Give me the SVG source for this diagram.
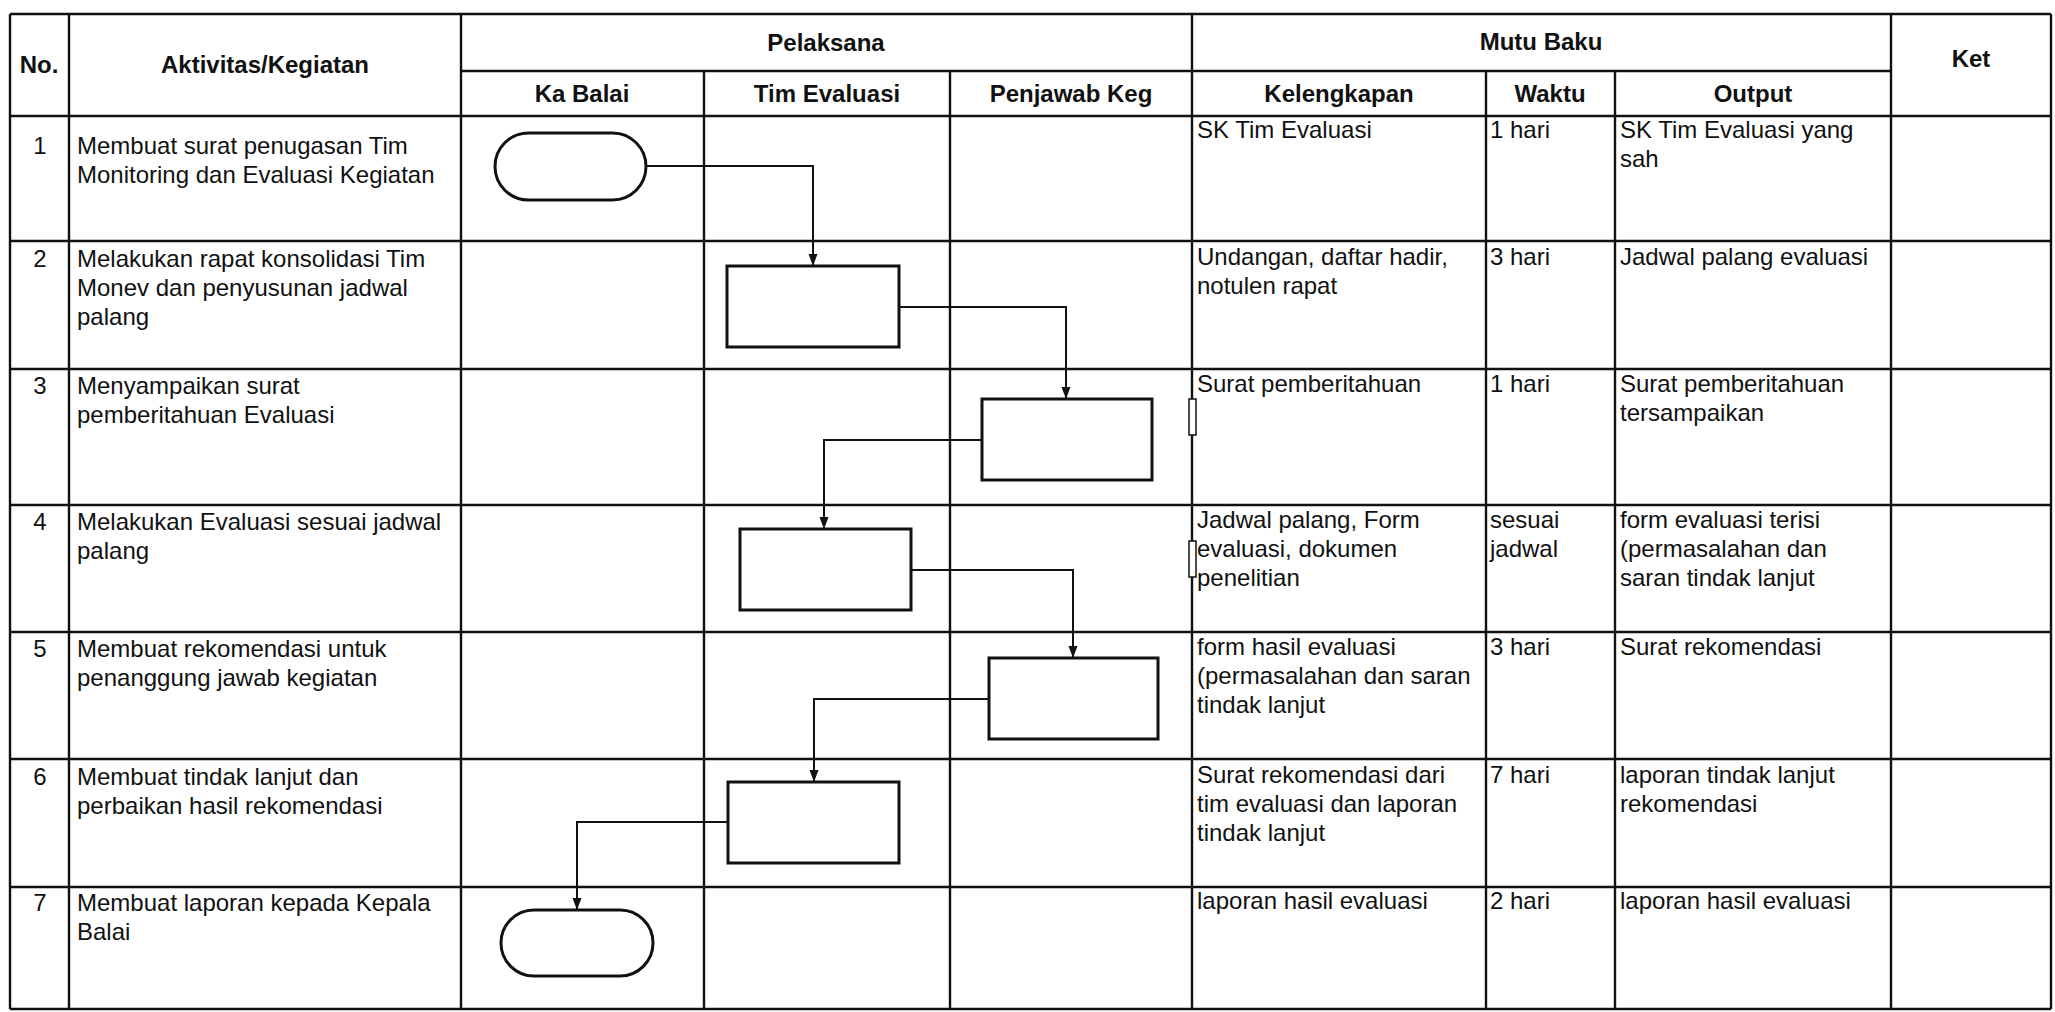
<svg xmlns="http://www.w3.org/2000/svg" width="2055" height="1012" viewBox="0 0 2055 1012">
<style>
  .grid line { stroke: #111; stroke-width: 2.4; }
  .node { fill: #fff; stroke: #111; stroke-width: 3; }
  .tab { fill: #fff; stroke: #111; stroke-width: 1.5; }
  .conn { fill: none; stroke: #111; stroke-width: 2; }
  text { font-family: "Liberation Sans", Arial, sans-serif; font-size: 24px; fill: #111; }
  .h { font-weight: bold; text-anchor: middle; }
  .num { text-anchor: middle; }
</style>
<defs>
  <marker id="ah" markerUnits="userSpaceOnUse" markerWidth="12" markerHeight="10" refX="12" refY="5" orient="auto" viewBox="0 0 12 10">
    <path d="M0,0.5 L12,5 L0,9.5 z" fill="#111"/>
  </marker>
</defs>
<rect x="0" y="0" width="2055" height="1012" fill="#fff"/>

<g id="table" class="grid">
  <line x1="10" y1="14" x2="2051" y2="14"/>
  <line x1="461" y1="71" x2="1891" y2="71"/>
  <line x1="10" y1="116" x2="2051" y2="116"/>
  <line x1="10" y1="241" x2="2051" y2="241"/>
  <line x1="10" y1="369" x2="2051" y2="369"/>
  <line x1="10" y1="505" x2="2051" y2="505"/>
  <line x1="10" y1="632" x2="2051" y2="632"/>
  <line x1="10" y1="759" x2="2051" y2="759"/>
  <line x1="10" y1="887" x2="2051" y2="887"/>
  <line x1="10" y1="1009" x2="2051" y2="1009"/>
  <line x1="10" y1="14" x2="10" y2="1009"/>
  <line x1="69" y1="14" x2="69" y2="1009"/>
  <line x1="461" y1="14" x2="461" y2="1009"/>
  <line x1="704" y1="71" x2="704" y2="1009"/>
  <line x1="950" y1="71" x2="950" y2="1009"/>
  <line x1="1192" y1="14" x2="1192" y2="1009"/>
  <line x1="1486" y1="71" x2="1486" y2="1009"/>
  <line x1="1615" y1="71" x2="1615" y2="1009"/>
  <line x1="1891" y1="14" x2="1891" y2="1009"/>
  <line x1="2051" y1="14" x2="2051" y2="1009"/>
</g>

<g id="header">
  <text class="h" x="39" y="73">No.</text>
  <text class="h" x="265" y="73">Aktivitas/Kegiatan</text>
  <text class="h" x="826" y="51">Pelaksana</text>
  <text class="h" x="1541" y="50">Mutu Baku</text>
  <text class="h" x="1971" y="67">Ket</text>
  <text class="h" x="582" y="102">Ka Balai</text>
  <text class="h" x="827" y="102">Tim Evaluasi</text>
  <text class="h" x="1071" y="102">Penjawab Keg</text>
  <text class="h" x="1339" y="102">Kelengkapan</text>
  <text class="h" x="1550" y="102">Waktu</text>
  <text class="h" x="1753" y="102">Output</text>
</g>

<g id="rows">
  <!-- row 1 -->
  <text class="num" x="40" y="154">1</text>
  <text x="77" y="154">Membuat surat penugasan Tim<tspan x="77" dy="29">Monitoring dan Evaluasi Kegiatan</tspan></text>
  <text x="1197" y="138">SK Tim Evaluasi</text>
  <text x="1490" y="138">1 hari</text>
  <text x="1620" y="138">SK Tim Evaluasi yang<tspan x="1620" dy="29">sah</tspan></text>
  <!-- row 2 -->
  <text class="num" x="40" y="267">2</text>
  <text x="77" y="267">Melakukan rapat konsolidasi Tim<tspan x="77" dy="29">Monev dan penyusunan jadwal</tspan><tspan x="77" dy="29">palang</tspan></text>
  <text x="1197" y="265">Undangan, daftar hadir,<tspan x="1197" dy="29">notulen rapat</tspan></text>
  <text x="1490" y="265">3 hari</text>
  <text x="1620" y="265">Jadwal palang evaluasi</text>
  <!-- row 3 -->
  <text class="num" x="40" y="394">3</text>
  <text x="77" y="394">Menyampaikan surat<tspan x="77" dy="29">pemberitahuan Evaluasi</tspan></text>
  <text x="1197" y="392">Surat pemberitahuan</text>
  <text x="1490" y="392">1 hari</text>
  <text x="1620" y="392">Surat pemberitahuan<tspan x="1620" dy="29">tersampaikan</tspan></text>
  <!-- row 4 -->
  <text class="num" x="40" y="530">4</text>
  <text x="77" y="530">Melakukan Evaluasi sesuai jadwal<tspan x="77" dy="29">palang</tspan></text>
  <text x="1197" y="528">Jadwal palang, Form<tspan x="1197" dy="29">evaluasi, dokumen</tspan><tspan x="1197" dy="29">penelitian</tspan></text>
  <text x="1490" y="528">sesuai<tspan x="1490" dy="29">jadwal</tspan></text>
  <text x="1620" y="528">form evaluasi terisi<tspan x="1620" dy="29">(permasalahan dan</tspan><tspan x="1620" dy="29">saran tindak lanjut</tspan></text>
  <!-- row 5 -->
  <text class="num" x="40" y="657">5</text>
  <text x="77" y="657">Membuat rekomendasi untuk<tspan x="77" dy="29">penanggung jawab kegiatan</tspan></text>
  <text x="1197" y="655">form hasil evaluasi<tspan x="1197" dy="29">(permasalahan dan saran</tspan><tspan x="1197" dy="29">tindak lanjut</tspan></text>
  <text x="1490" y="655">3 hari</text>
  <text x="1620" y="655">Surat rekomendasi</text>
  <!-- row 6 -->
  <text class="num" x="40" y="785">6</text>
  <text x="77" y="785">Membuat tindak lanjut dan<tspan x="77" dy="29">perbaikan hasil rekomendasi</tspan></text>
  <text x="1197" y="783">Surat rekomendasi dari<tspan x="1197" dy="29">tim evaluasi dan laporan</tspan><tspan x="1197" dy="29">tindak lanjut</tspan></text>
  <text x="1490" y="783">7 hari</text>
  <text x="1620" y="783">laporan tindak lanjut<tspan x="1620" dy="29">rekomendasi</tspan></text>
  <!-- row 7 -->
  <text class="num" x="40" y="911">7</text>
  <text x="77" y="911">Membuat laporan kepada Kepala<tspan x="77" dy="29">Balai</tspan></text>
  <text x="1197" y="909">laporan hasil evaluasi</text>
  <text x="1490" y="909">2 hari</text>
  <text x="1620" y="909">laporan hasil evaluasi</text>
</g>

<g id="connectors">
  <path class="conn" d="M646,166 H813 V266" marker-end="url(#ah)"/>
  <path class="conn" d="M899,307 H1066 V399" marker-end="url(#ah)"/>
  <path class="conn" d="M982,440 H824 V529" marker-end="url(#ah)"/>
  <path class="conn" d="M911,570 H1073 V658" marker-end="url(#ah)"/>
  <path class="conn" d="M989,699 H814 V782" marker-end="url(#ah)"/>
  <path class="conn" d="M728,822 H577 V910" marker-end="url(#ah)"/>
</g>

<g id="n1"><rect class="node" x="495" y="133" width="151" height="67" rx="33.5" ry="33.5"/></g>
<g id="n2"><rect class="node" x="727" y="266" width="172" height="81"/></g>
<g id="n3"><rect class="node" x="982" y="399" width="170" height="81"/></g>
<g id="n4"><rect class="node" x="740" y="529" width="171" height="81"/></g>
<g id="n5"><rect class="node" x="989" y="658" width="169" height="81"/></g>
<g id="n6"><rect class="node" x="728" y="782" width="171" height="81"/></g>
<g id="n7"><rect class="node" x="501" y="910" width="152" height="66" rx="33" ry="33"/></g>

<g id="marks">
  <rect class="tab" x="1189" y="399" width="7" height="36"/>
  <rect class="tab" x="1189" y="541" width="7" height="36"/>
</g>
</svg>
